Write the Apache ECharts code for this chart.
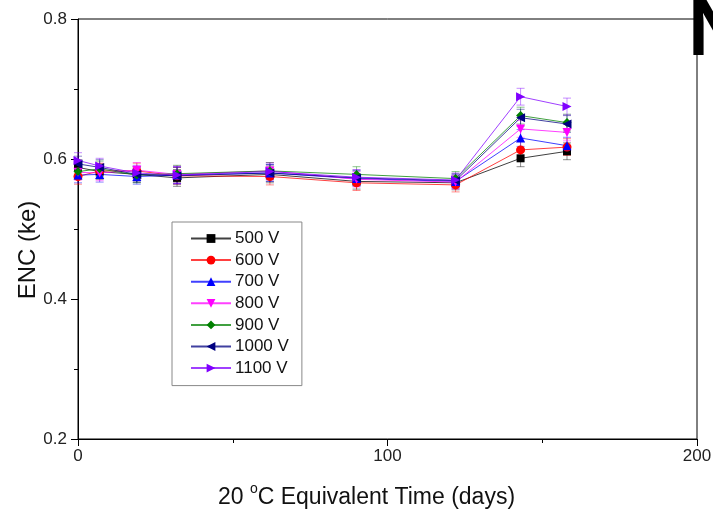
<!DOCTYPE html>
<html>
<head>
<meta charset="utf-8">
<script src="https://cdn.jsdelivr.net/npm/echarts@6/dist/echarts.min.js"></script>
<style>html,body{margin:0;padding:0;background:#fff}#c{width:713px;height:512px}</style>
</head>
<body>
<div id="c"></div>
<script>
const days = [0, 7, 19, 32, 62, 90, 122, 143, 158];
const seriesNames = ['500 V', '600 V', '700 V', '800 V', '900 V', '1000 V', '1100 V'];
const v500  = [0.588, 0.582, 0.578, 0.573, 0.578, 0.568, 0.566, 0.601, 0.611];
const v600  = [0.575, 0.583, 0.583, 0.576, 0.575, 0.566, 0.563, 0.613, 0.617];
const v700  = [0.577, 0.578, 0.575, 0.577, 0.580, 0.572, 0.568, 0.630, 0.619];
const v800  = [0.581, 0.580, 0.584, 0.578, 0.583, 0.571, 0.567, 0.643, 0.638];
const v900  = [0.582, 0.586, 0.577, 0.579, 0.583, 0.578, 0.572, 0.662, 0.652];
const v1000 = [0.593, 0.588, 0.578, 0.576, 0.580, 0.573, 0.569, 0.659, 0.650];
const v1100 = [0.598, 0.590, 0.580, 0.577, 0.582, 0.574, 0.570, 0.689, 0.675];
const errBars = [0.011, 0.011, 0.011, 0.012, 0.012, 0.011, 0.010, 0.012, 0.012];
const yTicks = [0.2, 0.4, 0.6, 0.8];
const xTicks = [0, 100, 200];

const allValues = [v500, v600, v700, v800, v900, v1000, v1100];
const colors = ['#000000', '#ff0000', '#0000ff', '#ff00ff', '#008000', '#000080', '#8000ff'];
const symbols = ['rect', 'circle', 'triangle', 'triangle', 'diamond', 'triangle', 'triangle'];
const rotations = [0, 0, 0, 180, 0, 90, -90];

const chart = echarts.init(document.getElementById('c'));
const series = [];
allValues.forEach((vals, i) => {
  series.push({
    name: seriesNames[i],
    type: 'line',
    data: days.map((d, k) => [d, vals[k]]),
    symbol: symbols[i],
    symbolSize: symbols[i] === 'rect' ? 8 : 9,
    symbolRotate: rotations[i],
    lineStyle: { color: colors[i], width: 1, opacity: 0.75 },
    itemStyle: { color: colors[i] },
    z: 3
  });
});
allValues.forEach((vals, i) => {
  series.push({
    name: seriesNames[i],
    type: 'custom',
    data: days.map((d, k) => [d, vals[k] - errBars[k], vals[k] + errBars[k]]),
    renderItem: function (params, api) {
      const x = api.value(0);
      const lo = api.coord([x, api.value(1)]);
      const hi = api.coord([x, api.value(2)]);
      const w = 4;
      const st = { stroke: colors[i], lineWidth: 1, opacity: 0.45 };
      return {
        type: 'group',
        children: [
          { type: 'line', shape: { x1: lo[0], y1: lo[1], x2: hi[0], y2: hi[1] }, style: st },
          { type: 'line', shape: { x1: lo[0] - w, y1: lo[1], x2: lo[0] + w, y2: lo[1] }, style: st },
          { type: 'line', shape: { x1: hi[0] - w, y1: hi[1], x2: hi[0] + w, y2: hi[1] }, style: st }
        ]
      };
    },
    z: 2
  });
});

chart.setOption({
  animation: false,
  backgroundColor: '#fff',
  textStyle: { fontFamily: 'Liberation Sans, Arial, sans-serif' },
  grid: { left: 78, right: 16, top: 19, bottom: 73, show: true, borderColor: '#000', borderWidth: 1, outerBoundsMode: 'none', containLabel: false },
  legend: {
    data: seriesNames,
    orient: 'vertical',
    left: 172,
    top: 222,
    padding: [8, 13, 9, 18],
    itemWidth: 40,
    itemHeight: 11,
    itemGap: 4.6,
    borderColor: '#888',
    borderWidth: 1,
    textStyle: { fontSize: 17, color: '#111', fontFamily: 'Liberation Sans, Arial, sans-serif', padding: [0, 0, 0, -1] }
  },
  xAxis: {
    type: 'value',
    min: xTicks[0],
    max: xTicks[xTicks.length - 1],
    interval: 100,
    name: '20 {sup|o}C Equivalent Time (days)',
    nameLocation: 'middle',
    nameGap: 43,
    nameMoveOverlap: false,
    nameTextStyle: {
      fontSize: 23, color: '#111', padding: [0, 42, 0, 0],
      rich: { sup: { fontSize: 14, verticalAlign: 'top', padding: [0, 0, 17, 0], color: '#111' } }
    },
    axisLine: { lineStyle: { color: '#000', width: 1 } },
    axisTick: { length: 7, lineStyle: { color: '#000' } },
    minorTick: { show: true, splitNumber: 2, length: 4, lineStyle: { color: '#000' } },
    axisLabel: { fontSize: 17, color: '#222', margin: 9 },
    splitLine: { show: false }
  },
  yAxis: {
    type: 'value',
    min: yTicks[0],
    max: yTicks[yTicks.length - 1],
    interval: 0.2,
    name: 'ENC (ke)',
    nameLocation: 'middle',
    nameGap: 38,
    nameMoveOverlap: false,
    nameTextStyle: { fontSize: 24, color: '#111', padding: [0, 42, 0, 0] },
    axisLine: { lineStyle: { color: '#000', width: 1 } },
    axisTick: { length: 7, lineStyle: { color: '#000' } },
    minorTick: { show: true, splitNumber: 2, length: 4, lineStyle: { color: '#000' } },
    axisLabel: { fontSize: 17, color: '#222', margin: 11, formatter: v => v.toFixed(1) },
    splitLine: { show: false }
  },
  graphic: [
    { type: 'text', left: 688, top: -7, style: { text: 'N', fontSize: 80, fontWeight: 'bold', fill: '#000', fontFamily: 'Liberation Sans, Arial, sans-serif' }, z: 10 }
  ],
  series: series
});
</script>
</body>
</html>
